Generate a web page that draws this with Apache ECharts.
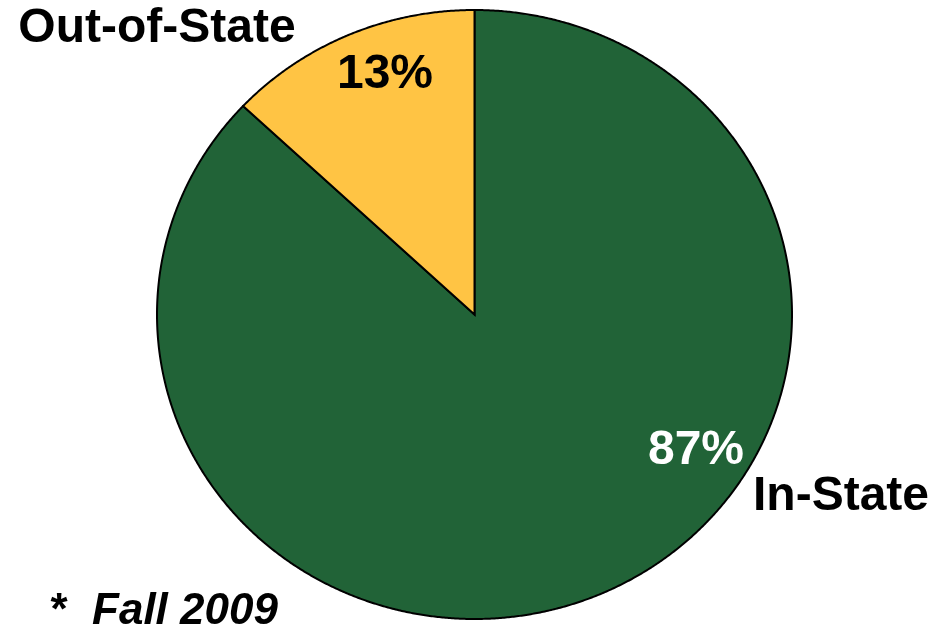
<!DOCTYPE html>
<html><head><meta charset="utf-8">
<script src="https://cdn.jsdelivr.net/npm/echarts@6/dist/echarts.min.js"></script>
<style>html,body{margin:0;padding:0;background:#fff}#c{width:951px;height:636px}</style>
</head><body><div id="c"></div>
<script>
const categories = ['In-State', 'Out-of-State'];
const values = [87, 13];
const footnoteMark = '*';
const footnoteText = 'Fall 2009';

const colors = ['#216337', '#FFC444'];
const cx = 474.5, cy = 314.5, rx = 317.5, ry = 304.5;
const total = values.reduce((a, b) => a + b, 0);
const FONT = 'Liberation Sans, Arial, sans-serif';

const chart = echarts.init(document.getElementById('c'), null, {renderer: 'canvas'});
chart.setOption({
  animation: false,
  backgroundColor: '#fff',
  series: [{
    type: 'custom',
    coordinateSystem: 'none',
    data: values.map((v, i) => ({name: categories[i], value: [v]})),
    renderItem: function (params, api) {
      const i = params.dataIndex;
      let start = 0;
      for (let k = 0; k < i; k++) start += values[k];
      const a0 = start / total * 2 * Math.PI;
      const a1 = (start + api.value(0)) / total * 2 * Math.PI;
      const pts = [[cx, cy]];
      const n = Math.max(4, Math.ceil((a1 - a0) / 0.005));
      for (let j = 0; j <= n; j++) {
        const t = a0 + (a1 - a0) * j / n;
        pts.push([cx + rx * Math.sin(t), cy - ry * Math.cos(t)]);
      }
      return {
        type: 'polygon',
        shape: {points: pts},
        style: {fill: colors[i], stroke: '#000', lineWidth: 2, lineJoin: 'miter'}
      };
    }
  }],
  graphic: [
    {type: 'text', x: 385, y: 75, z: 10, style: {text: values[1] + '%', fill: '#000', font: 'bold 48px ' + FONT, textAlign: 'center', textVerticalAlign: 'middle'}},
    {type: 'text', x: 696, y: 451, z: 10, style: {text: values[0] + '%', fill: '#fff', font: 'bold 48px ' + FONT, textAlign: 'center', textVerticalAlign: 'middle'}},
    {type: 'text', x: 157, y: 29, z: 10, style: {text: categories[1], fill: '#000', font: 'bold 48px ' + FONT, textAlign: 'center', textVerticalAlign: 'middle'}},
    {type: 'text', x: 841, y: 497, z: 10, style: {text: categories[0], fill: '#000', font: 'bold 48px ' + FONT, textAlign: 'center', textVerticalAlign: 'middle'}},
    {type: 'text', x: 59, y: 612, z: 10, style: {text: footnoteMark, fill: '#000', font: 'bold 44px ' + FONT, textAlign: 'center', textVerticalAlign: 'middle'}},
    {type: 'text', x: 185, y: 612, z: 10, style: {text: footnoteText, fill: '#000', font: 'italic bold 44px ' + FONT, textAlign: 'center', textVerticalAlign: 'middle'}}
  ]
});
</script>
</body></html>
